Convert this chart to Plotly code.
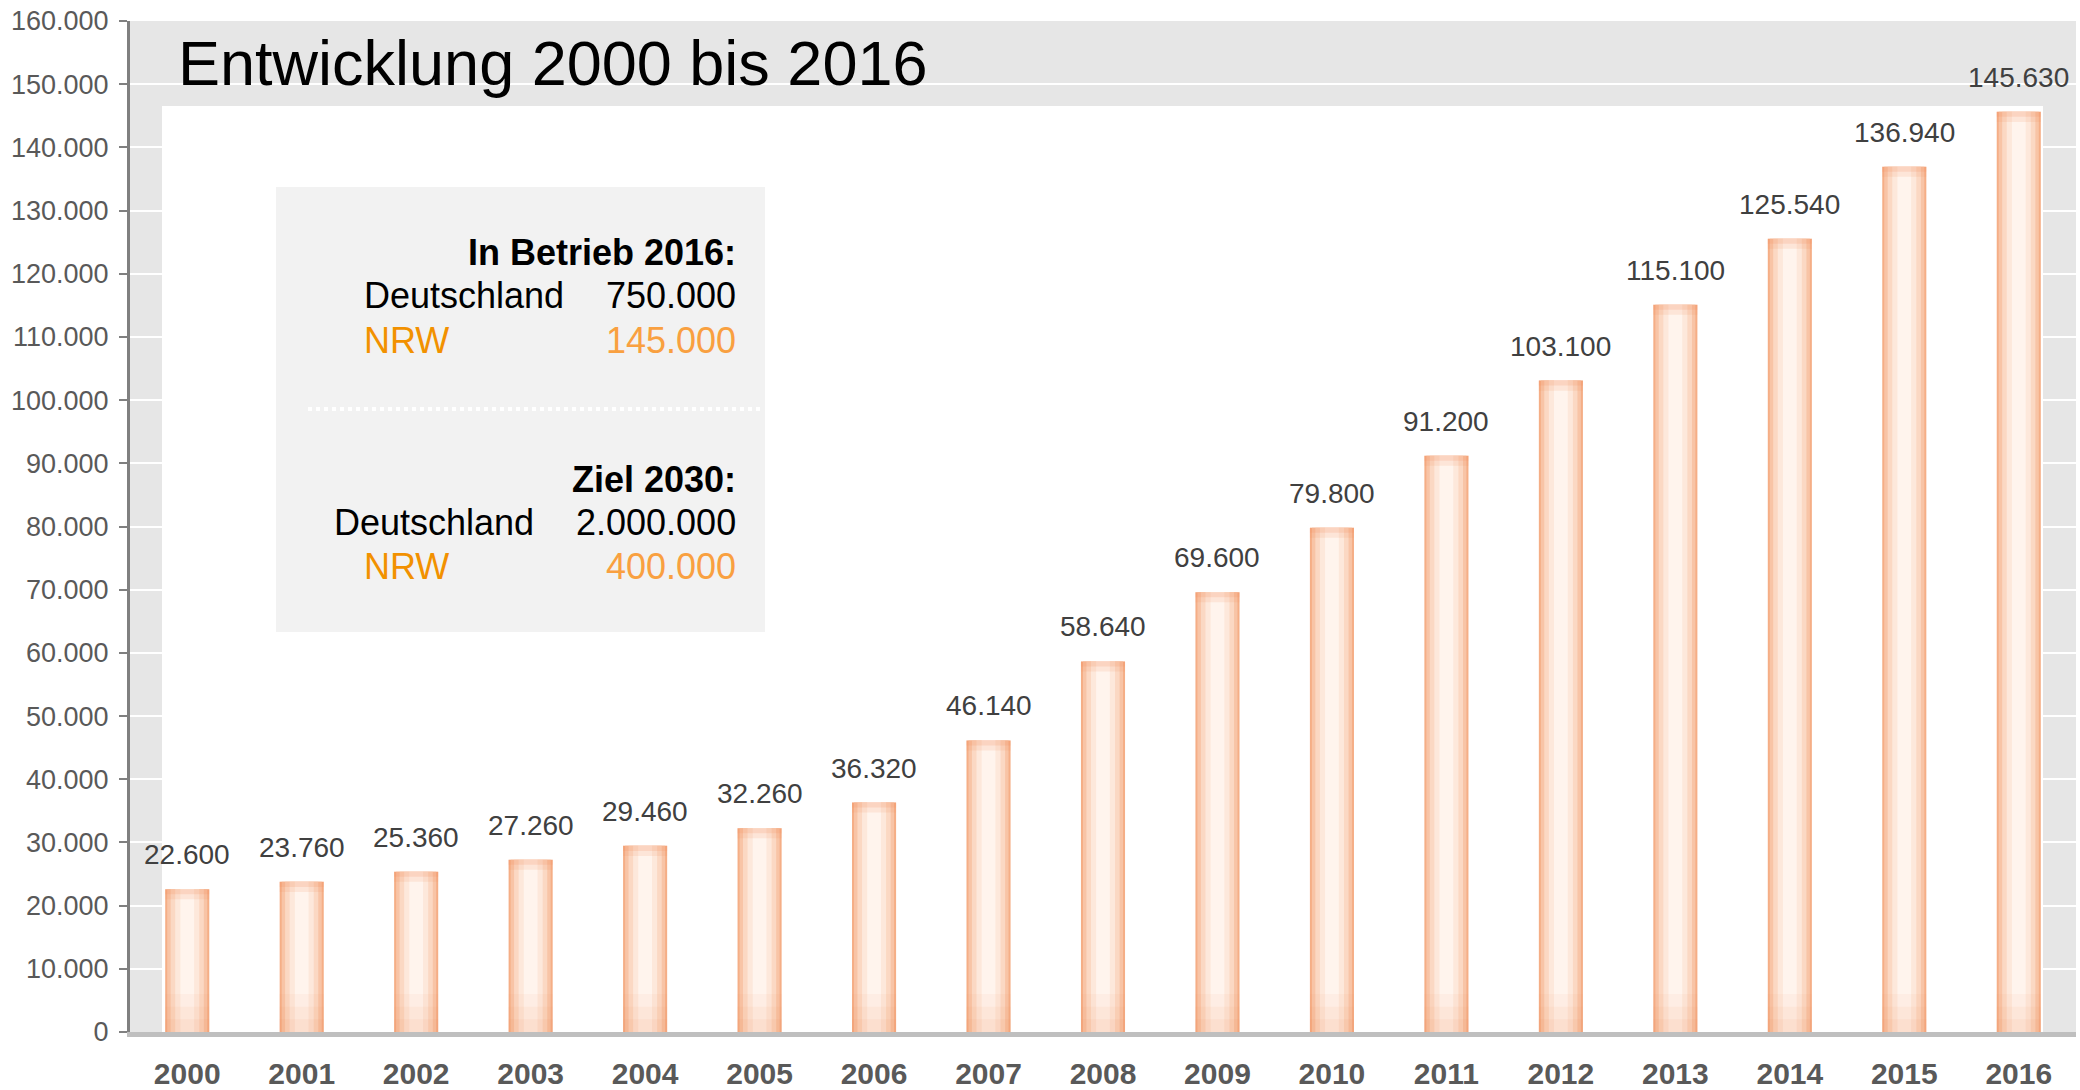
import plotly.graph_objects as go

years = [str(y) for y in range(2000, 2017)]
values = [22600, 23760, 25360, 27260, 29460, 32260, 36320, 46140, 58640,
          69600, 79800, 91200, 103100, 115100, 125540, 136940, 145630]
y_ticks = list(range(0, 160001, 10000))

title_text = "Entwicklung 2000 bis 2016"
box_heading_1 = "In Betrieb 2016:"
box_heading_2 = "Ziel 2030:"
box_rows_1 = [("Deutschland", "750.000"), ("NRW", "145.000")]
box_rows_2 = [("Deutschland", "2.000.000"), ("NRW", "400.000")]

W, H = 2080, 1090
L, R, T, B = 130, 4, 21, 58
PW, PH = W - L - R, H - T - B


def px_x(x):
    return (x - L) / PW


def px_y(y):
    return (H - B - y) / PH


def de(v):
    return f"{v:,}".replace(",", ".")


fig = go.Figure()

BW = 0.385
layers = [(BW, "#F5AE86"), (0.35, "#F8C4A6"), (0.29, "#FBD8C3"),
          (0.21, "#FDE8DB"), (0.12, "#FFF4ED")]
for w, c in layers:
    fig.add_trace(go.Bar(x=years, y=values, width=w, marker_color=c,
                         marker_line_width=0, hoverinfo="skip",
                         showlegend=False))

# soft vertical shading: a darker cap at the top and foot at the bottom
n = len(values)
for h, a in [(1600, 0.14), (800, 0.18)]:
    fig.add_trace(go.Bar(x=years, y=[h] * n, base=[v - h for v in values],
                         width=BW, marker_color=f"rgba(244,140,90,{a})",
                         marker_line_width=0, hoverinfo="skip", showlegend=False))
for h, a in [(6000, 0.06), (4000, 0.07), (2000, 0.08)]:
    fig.add_trace(go.Bar(x=years, y=[h] * n, base=[0] * n,
                         width=BW, marker_color=f"rgba(244,140,90,{a})",
                         marker_line_width=0, hoverinfo="skip", showlegend=False))

# data labels
for i, v in enumerate(values):
    fig.add_annotation(x=i, y=v, xref="x", yref="y", text=de(v), showarrow=False,
                       yanchor="bottom", xanchor="center", yshift=17,
                       font=dict(family="Liberation Sans, Arial",
                                 size=28, color="#404040"))

shapes = []
shapes.append(dict(type="rect", xref="paper", yref="paper",
                   x0=px_x(162), x1=px_x(2043), y0=0, y1=px_y(106),
                   fillcolor="white", line_width=0, layer="between"))
shapes.append(dict(type="rect", xref="paper", yref="paper",
                   x0=px_x(276), x1=px_x(765), y0=px_y(632), y1=px_y(187),
                   fillcolor="#F2F2F2", line_width=0, layer="above"))
shapes.append(dict(type="line", xref="paper", yref="paper",
                   x0=px_x(308), x1=px_x(760), y0=px_y(409), y1=px_y(409),
                   line=dict(color="white", width=4, dash="dot"), layer="above"))

annotations = []
annotations.append(dict(xref="paper", yref="paper", x=px_x(176), y=px_y(63),
                        xanchor="left", yanchor="middle", showarrow=False,
                        text=title_text,
                        font=dict(family="Liberation Sans, Arial", size=63, color="black")))

box_font = "Liberation Sans, Arial"


def box_text(text, x, y, anchor, color, bold=False):
    annotations.append(dict(xref="paper", yref="paper", x=px_x(x), y=px_y(y),
                            xanchor=anchor, yanchor="middle", showarrow=False,
                            text=f"<b>{text}</b>" if bold else text,
                            font=dict(family=box_font, size=36, color=color)))


box_text(box_heading_1, 738, 252, "right", "black", bold=True)
box_text(box_rows_1[0][0], 362, 295, "left", "black")
box_text(box_rows_1[0][1], 738, 295, "right", "black")
box_text(box_rows_1[1][0], 362, 340, "left", "#F29100")
box_text(box_rows_1[1][1], 738, 340, "right", "#F9A040")
box_text(box_heading_2, 738, 479, "right", "black", bold=True)
box_text(box_rows_2[0][0], 332, 522, "left", "black")
box_text(box_rows_2[0][1], 738, 522, "right", "black")
box_text(box_rows_2[1][0], 362, 566, "left", "#F29100")
box_text(box_rows_2[1][1], 738, 566, "right", "#F9A040")

for a in annotations:
    fig.add_annotation(**a)

fig.update_layout(
    width=W, height=H,
    margin=dict(l=L, r=R, t=T, b=B, autoexpand=False),
    paper_bgcolor="white", plot_bgcolor="#E6E6E6",
    barmode="overlay", separators=",.",
    shapes=shapes, showlegend=False,
    font=dict(family="Liberation Sans, Arial"),
)
fig.update_xaxes(type="category", showgrid=False, showline=True,
                 linecolor="#BFBFBF", linewidth=5, ticks="",
                 tickfont=dict(family="Liberation Sans, Arial", size=30,
                               color="#595959", weight="bold"),
                 ticklabelstandoff=11, range=[-0.5, 16.5], fixedrange=True)
fig.update_yaxes(range=[0, 160000], tickvals=y_ticks, tickformat=",d",
                 showgrid=True, gridcolor="white", gridwidth=2,
                 zeroline=False, showline=True, linecolor="#808080",
                 linewidth=3, ticks="outside", ticklen=8, tickwidth=2,
                 tickcolor="#808080", ticklabelstandoff=5,
                 tickfont=dict(family="Liberation Sans, Arial", size=27,
                               color="#595959"), fixedrange=True)

fig.write_html("out.html", config={"displayModeBar": False},
               post_script="document.body.style.margin='0';document.body.style.overflow='hidden';")
